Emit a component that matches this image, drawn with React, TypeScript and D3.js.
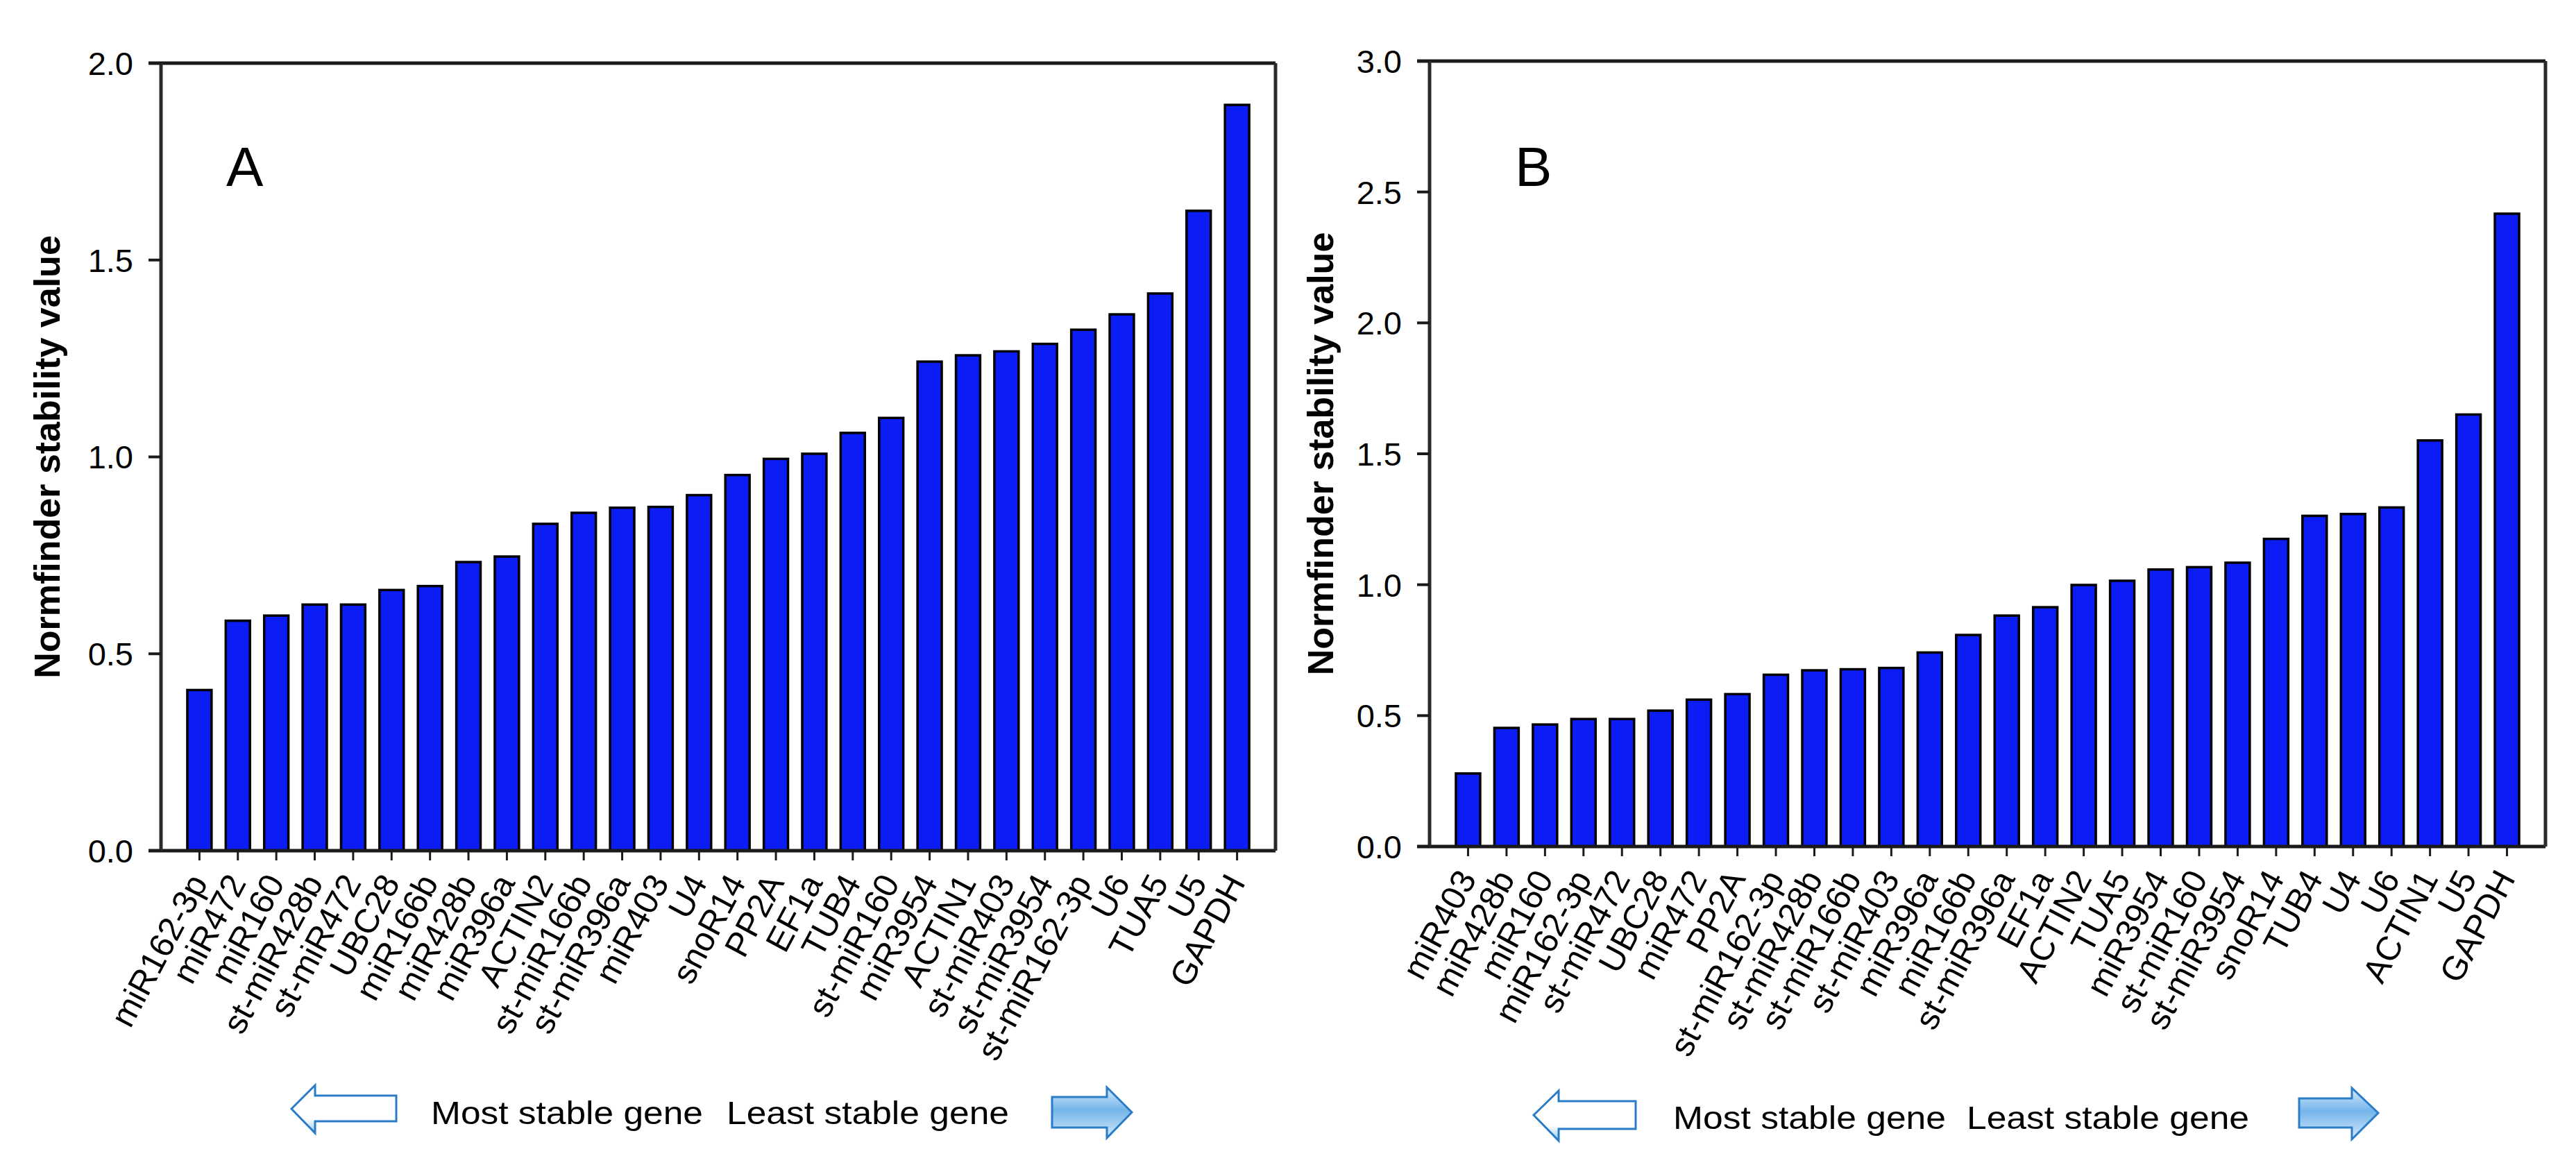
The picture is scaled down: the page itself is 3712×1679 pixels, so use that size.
import React from "react";
import * as d3 from "d3";

const catsA = ["miR162-3p","miR472","miR160","st-miR428b","st-miR472","UBC28","miR166b","miR428b","miR396a","ACTIN2","st-miR166b","st-miR396a","miR403","U4","snoR14","PP2A","EF1a","TUB4","st-miR160","miR3954","ACTIN1","st-miR403","st-miR3954","st-miR162-3p","U6","TUA5","U5","GAPDH"];
const valsA = [0.408,0.584,0.597,0.625,0.625,0.662,0.672,0.733,0.747,0.830,0.858,0.871,0.873,0.903,0.954,0.995,1.008,1.061,1.099,1.242,1.258,1.268,1.287,1.323,1.362,1.415,1.625,1.894];

const catsB = ["miR403","miR428b","miR160","miR162-3p","st-miR472","UBC28","miR472","PP2A","st-miR162-3p","st-miR428b","st-miR166b","st-miR403","miR396a","miR166b","st-miR396a","EF1a","ACTIN2","TUA5","miR3954","st-miR160","st-miR3954","snoR14","TUB4","U4","U6","ACTIN1","U5","GAPDH"];
const valsB = [0.279,0.453,0.466,0.487,0.487,0.519,0.561,0.582,0.656,0.673,0.677,0.682,0.741,0.808,0.882,0.914,0.999,1.015,1.058,1.067,1.084,1.175,1.263,1.270,1.295,1.551,1.650,2.417];

const yMaxA = 2.0;
const yMaxB = 3.0;
const yStep = 0.5;
const yTitle = "Normfinder stability value";
const leftNote = "Most stable gene";
const rightNote = "Least stable gene";

const FONT = "'Liberation Sans', Arial, Helvetica, sans-serif";
const BAR = "#0b1cf5";

type ArrowCfg = {
  l: { tip: number; cy: number; hb: number; ht: number; hbot: number; se: number; st: number; sb: number };
  r: { ss: number; hb: number; tip: number; cy: number; ht: number; hbot: number; st: number; sb: number };
  t1: { x: number; w: number };
  t2: { x: number; w: number };
  base: number;
};

function Panel(props: {
  id: string;
  cats: string[];
  vals: number[];
  yMax: number;
  left: number;
  right: number;
  top: number;
  bottom: number;
  letter: string;
  letterX: number;
  titleX: number;
  arrows: ArrowCfg;
}) {
  const { cats, vals, yMax, left, right, top, bottom, letter, letterX, titleX, arrows, id } = props;
  const x = d3.scaleLinear().domain([0, cats.length + 1]).range([left, right]);
  const y = d3.scaleLinear().domain([0, yMax]).range([bottom, top]);
  const band = x(1) - x(0);
  const bw = band * 0.63;
  const ticks = d3.range(0, yMax + 1e-6, yStep);
  const fmt = d3.format(".1f");
  const tickLen = 18;
  const a = arrows;
  const lp = a.l;
  const rp = a.r;
  const leftPath = `M${lp.tip},${lp.cy} L${lp.hb},${lp.ht} L${lp.hb},${lp.st} L${lp.se},${lp.st} L${lp.se},${lp.sb} L${lp.hb},${lp.sb} L${lp.hb},${lp.hbot} Z`;
  const rightPath = `M${rp.tip},${rp.cy} L${rp.hb},${rp.ht} L${rp.hb},${rp.st} L${rp.ss},${rp.st} L${rp.ss},${rp.sb} L${rp.hb},${rp.sb} L${rp.hb},${rp.hbot} Z`;
  return (
    <g>
      <defs>
        <linearGradient id={id + "gl"} x1="0" y1="0" x2="0" y2="1">
          <stop offset="0%" stopColor="#ffffff" />
          <stop offset="70%" stopColor="#ffffff" />
          <stop offset="100%" stopColor="#8ec7f2" />
        </linearGradient>
        <linearGradient id={id + "gr"} x1="0" y1="0" x2="0" y2="1">
          <stop offset="0%" stopColor="#d6ebfb" />
          <stop offset="45%" stopColor="#74b4ea" />
          <stop offset="100%" stopColor="#d6ebfb" />
        </linearGradient>
      </defs>
      {vals.map((v, i) => (
        <rect
          key={i}
          x={x(i + 1) - bw / 2}
          y={y(v)}
          width={bw}
          height={y(0) - y(v)}
          fill={BAR}
          stroke="#000"
          strokeWidth={3.5}
        />
      ))}
      <line x1={left - tickLen} x2={right} y1={top} y2={top} stroke="#1a1a1a" strokeWidth={5} />
      <line x1={left - tickLen} x2={right} y1={bottom} y2={bottom} stroke="#1a1a1a" strokeWidth={5} />
      <line x1={left} x2={left} y1={top} y2={bottom} stroke="#2a2a2a" strokeWidth={5} />
      <line x1={right} x2={right} y1={top} y2={bottom} stroke="#2a2a2a" strokeWidth={5} />
      {ticks.map((t) => (
        <g key={t}>
          <line x1={left - tickLen} x2={left} y1={y(t)} y2={y(t)} stroke="#1a1a1a" strokeWidth={4} />
          <text x={left - 40} y={y(t)} dy="0.36em" textAnchor="end" fontFamily={FONT} fontSize={47} fill="#000">
            {fmt(t)}
          </text>
        </g>
      ))}
      {cats.map((c, i) => (
        <g key={c + i}>
          <line x1={x(i + 1)} x2={x(i + 1)} y1={bottom} y2={bottom + 14} stroke="#1a1a1a" strokeWidth={3} />
          <text
            transform={`translate(${x(i + 1) + 13},${bottom + 46}) rotate(-62)`}
            textAnchor="end"
            fontFamily={FONT}
            fontSize={49}
            fill="#000"
          >
            {c}
          </text>
        </g>
      ))}
      <text
        transform={`translate(${titleX},${(top + bottom) / 2}) rotate(-90)`}
        textAnchor="middle"
        fontFamily={FONT}
        fontWeight="bold"
        fontSize={52}
        fill="#000"
      >
        {yTitle}
      </text>
      <text x={letterX} y={268} fontFamily={FONT} fontSize={80} fill="#000">
        {letter}
      </text>
      <path d={leftPath} fill={`url(#${id}gl)`} stroke="#2a7cc7" strokeWidth={3} />
      <path d={rightPath} fill={`url(#${id}gr)`} stroke="#2a7cc7" strokeWidth={3} />
      <text x={a.t1.x} y={a.base} fontFamily={FONT} fontSize={47} textLength={a.t1.w} lengthAdjust="spacingAndGlyphs" fill="#000">
        {leftNote}
      </text>
      <text x={a.t2.x} y={a.base} fontFamily={FONT} fontSize={47} textLength={a.t2.w} lengthAdjust="spacingAndGlyphs" fill="#000">
        {rightNote}
      </text>
    </g>
  );
}

export default function App() {
  const arrowsA: ArrowCfg = {
    l: { tip: 420, cy: 1598, hb: 454, ht: 1564, hbot: 1633, se: 571, st: 1579, sb: 1616 },
    r: { ss: 1516, hb: 1595, tip: 1631, cy: 1603, ht: 1567, hbot: 1640, st: 1581, sb: 1625 },
    t1: { x: 621, w: 392 },
    t2: { x: 1047, w: 407 },
    base: 1620,
  };
  const arrowsB: ArrowCfg = {
    l: { tip: 2210, cy: 1607, hb: 2246, ht: 1572, hbot: 1644, se: 2357, st: 1587, sb: 1627 },
    r: { ss: 3313, hb: 3389, tip: 3427, cy: 1604, ht: 1568, hbot: 1642, st: 1583, sb: 1625 },
    t1: { x: 2411, w: 393 },
    t2: { x: 2834, w: 407 },
    base: 1627,
  };
  return (
    <svg
      width={3712}
      height={1679}
      viewBox="0 0 3712 1679"
      style={{ position: "absolute", left: 0, top: 0, background: "#fff" }}
    >
      <rect x={0} y={0} width={3712} height={1679} fill="#fff" />
      <Panel id="A" cats={catsA} vals={valsA} yMax={yMaxA} left={232} right={1838} top={91} bottom={1226}
        letter="A" letterX={326} titleX={86} arrows={arrowsA} />
      <Panel id="B" cats={catsB} vals={valsB} yMax={yMaxB} left={2060} right={3668} top={88} bottom={1220}
        letter="B" letterX={2183} titleX={1921} arrows={arrowsB} />
    </svg>
  );
}
